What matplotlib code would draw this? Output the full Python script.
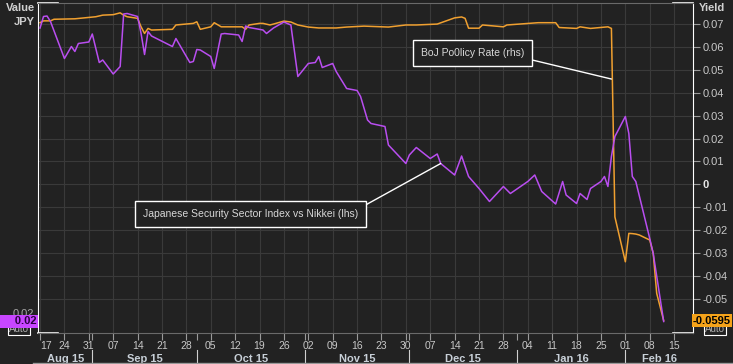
import matplotlib
matplotlib.use('Agg')
import matplotlib.pyplot as plt
import matplotlib.dates as mdates
import matplotlib.transforms as mtransforms
from matplotlib.lines import Line2D
import pandas as pd

plt.rcParams['font.family'] = ['Liberation Sans', 'DejaVu Sans']

# Japanese Security Sector Index vs Nikkei (lhs)
sec_dates = ['2015-08-17', '2015-08-18', '2015-08-19', '2015-08-20', '2015-08-24', '2015-08-26',
             '2015-08-27', '2015-08-28', '2015-08-31', '2015-09-01', '2015-09-03', '2015-09-04',
             '2015-09-07', '2015-09-09', '2015-09-10', '2015-09-11', '2015-09-14', '2015-09-15',
             '2015-09-16', '2015-09-17', '2015-09-18', '2015-09-24', '2015-09-25', '2015-09-29',
             '2015-09-30', '2015-10-01', '2015-10-02', '2015-10-05', '2015-10-06', '2015-10-08',
             '2015-10-09', '2015-10-13', '2015-10-14', '2015-10-15', '2015-10-16', '2015-10-20',
             '2015-10-21', '2015-10-23', '2015-10-26', '2015-10-28', '2015-10-30', '2015-11-02',
             '2015-11-04', '2015-11-05', '2015-11-06', '2015-11-09', '2015-11-10', '2015-11-13',
             '2015-11-16', '2015-11-17', '2015-11-19', '2015-11-20', '2015-11-24', '2015-11-25',
             '2015-11-30', '2015-12-01', '2015-12-03', '2015-12-07', '2015-12-09', '2015-12-10',
             '2015-12-14', '2015-12-16', '2015-12-18', '2015-12-21', '2015-12-24', '2015-12-28',
             '2015-12-30', '2016-01-04', '2016-01-06', '2016-01-08', '2016-01-12', '2016-01-14',
             '2016-01-15', '2016-01-18', '2016-01-19', '2016-01-21', '2016-01-22', '2016-01-25',
             '2016-01-26', '2016-01-27', '2016-01-28', '2016-01-29', '2016-02-01', '2016-02-02',
             '2016-02-03', '2016-02-04', '2016-02-08', '2016-02-09', '2016-02-12']
sec_vals = [0.02570, 0.02593, 0.02594, 0.02583, 0.02509, 0.02533,
            0.02523, 0.02539, 0.02542, 0.02558, 0.02501, 0.02506,
            0.02478, 0.02493, 0.02598, 0.02599, 0.02593, 0.02559,
            0.02517, 0.02563, 0.02554, 0.02533, 0.02549, 0.02501,
            0.02503, 0.02527, 0.02526, 0.02513, 0.02489, 0.02558,
            0.02559, 0.02556, 0.02543, 0.02574, 0.02571, 0.02566,
            0.02559, 0.02570, 0.02582, 0.02576, 0.02473, 0.02499,
            0.02501, 0.02513, 0.02491, 0.02499, 0.02483, 0.02449,
            0.02445, 0.02433, 0.02386, 0.02379, 0.02373, 0.02336,
            0.02299, 0.02316, 0.02331, 0.02309, 0.02318, 0.02299,
            0.02276, 0.02314, 0.02273, 0.02249, 0.02223, 0.02253,
            0.02239, 0.02263, 0.02276, 0.02243, 0.02218, 0.02263,
            0.02236, 0.02219, 0.02239, 0.02227, 0.02249, 0.02263,
            0.02273, 0.02253, 0.02313, 0.02353, 0.02393, 0.02359,
            0.02273, 0.02263, 0.02149, 0.02119, 0.01983]

# BoJ policy rate proxy (rhs)
boj_dates = ['2015-08-17', '2015-08-18', '2015-08-20', '2015-08-21', '2015-08-27', '2015-09-02',
             '2015-09-04', '2015-09-07', '2015-09-09', '2015-09-10', '2015-09-11', '2015-09-14',
             '2015-09-15', '2015-09-16', '2015-09-17', '2015-09-18', '2015-09-24', '2015-09-25',
             '2015-09-30', '2015-10-01', '2015-10-02', '2015-10-05', '2015-10-06', '2015-10-08',
             '2015-10-14', '2015-10-15', '2015-10-16', '2015-10-19', '2015-10-20', '2015-10-22',
             '2015-10-23', '2015-10-26', '2015-10-28', '2015-10-30', '2015-11-02', '2015-11-05',
             '2015-11-10', '2015-11-13', '2015-11-18', '2015-11-25', '2015-11-30', '2015-12-03',
             '2015-12-09', '2015-12-14', '2015-12-16', '2015-12-17', '2015-12-18', '2015-12-21',
             '2015-12-22', '2015-12-28', '2015-12-29', '2016-01-07', '2016-01-12', '2016-01-13',
             '2016-01-18', '2016-01-19', '2016-01-22', '2016-01-27', '2016-01-28', '2016-01-29',
             '2016-02-01', '2016-02-02', '2016-02-03', '2016-02-04', '2016-02-05', '2016-02-08',
             '2016-02-09', '2016-02-10', '2016-02-12']
boj_vals = [0.0706, 0.0714, 0.0714, 0.0721, 0.0723, 0.0732,
            0.0739, 0.0741, 0.0749, 0.0739, 0.0732, 0.0725,
            0.0688, 0.0659, 0.0681, 0.0674, 0.0677, 0.0696,
            0.0703, 0.0710, 0.0677, 0.0688, 0.0706, 0.0688,
            0.0688, 0.0677, 0.0696, 0.0703, 0.0703, 0.0696,
            0.0700, 0.0713, 0.0709, 0.0696, 0.0687, 0.0683,
            0.0683, 0.0687, 0.0691, 0.0687, 0.0696, 0.0696,
            0.0700, 0.0727, 0.0731, 0.0725, 0.0682, 0.0682,
            0.0696, 0.0688, 0.0696, 0.0706, 0.0706, 0.0685,
            0.0681, 0.0688, 0.0681, 0.0688, 0.0681, -0.0142,
            -0.0338, -0.0214, -0.0215, -0.0217, -0.0221, -0.0243,
            -0.0301, -0.0476, -0.0595]

yield_ticks = [0.07, 0.06, 0.05, 0.04, 0.03, 0.02, 0.01, 0.0,
               -0.01, -0.02, -0.03, -0.04, -0.05]

BG = '#222222'
GRID = '#3a3a3a'
TXT = '#c8c8c8'
PURPLE = '#b94ef0'
ORANGE = '#f0a030'

sec_x = pd.to_datetime(sec_dates)
boj_x = pd.to_datetime(boj_dates)

fig = plt.figure(figsize=(7.33, 3.64), dpi=100, facecolor=BG)
ax = fig.add_axes([38 / 733, 31 / 364, 655 / 733, 330 / 364], facecolor=BG)
axl = ax.twinx()
# twinx moves the host ticks to the left; put yield back on the right
ax.yaxis.tick_right()
ax.yaxis.set_label_position('right')
axl.yaxis.tick_left()
axl.yaxis.set_label_position('left')

ax.plot(boj_x, boj_vals, color=ORANGE, lw=1.1)
axl.plot(sec_x, sec_vals, color=PURPLE, lw=1.1)

x0 = pd.Timestamp('2015-08-17') - pd.Timedelta(hours=14)
x1 = pd.Timestamp('2016-02-15') + pd.Timedelta(hours=130)
ax.set_xlim(x0, x1)
ax.set_ylim(-0.0649, 0.0792)
axl.set_ylim(0.0196, 0.0262)

# right axis
ax.set_yticks(yield_ticks)
ax.set_yticklabels(['0' if v == 0 else f'{v:.2f}' for v in yield_ticks])
ax.tick_params(axis='y', colors='#9a9a9a', labelcolor=TXT, labelsize=8,
               length=5, width=0.8, pad=2)
for lab in ax.get_yticklabels():
    if lab.get_text() == '0':
        lab.set_fontweight('bold')
        lab.set_color('#e8e8e8')

# left axis
axl.set_yticks([0.02])
axl.set_yticklabels(['0.02'])
axl.tick_params(axis='y', length=0, labelcolor='#a8a8a8', labelsize=8, pad=3)

# x axis
ax.xaxis.set_major_locator(mdates.WeekdayLocator(byweekday=mdates.MO))
ax.xaxis.set_major_formatter(mdates.DateFormatter('%d'))
ax.xaxis.set_minor_locator(mdates.MonthLocator())
ax.tick_params(axis='x', which='both', colors='#9a9a9a', labelcolor=TXT,
               labelsize=7.5, length=5, width=0.8, pad=1)
fig.canvas.draw()
ax.get_xticklabels()[0].set_horizontalalignment('left')

ax.grid(True, color=GRID, lw=0.8)
ax.set_axisbelow(True)

# spines
for s in axl.spines.values():
    s.set_visible(False)
ax.spines['left'].set_color('white')
ax.spines['right'].set_color('white')
ax.spines['top'].set_color('#6a6a6a')
ax.spines['bottom'].set_color('#6a6a6a')
for xs, ys in [([0, 0.03], [1, 1]), ([0.97, 1], [1, 1]),
               ([0, 0.03], [0, 0]), ([0.97, 1], [0, 0])]:
    ax.plot(xs, ys, transform=ax.transAxes, color='white', lw=1.2, clip_on=False)

# month labels and separators
blend = mtransforms.blended_transform_factory(ax.transData, ax.transAxes)
months = pd.date_range('2015-08-01', '2016-03-01', freq='MS')
for m0, m1 in zip(months[:-1], months[1:]):
    a = max(m0, x0)
    b = min(m1, x1)
    ax.text(a + (b - a) / 2, -0.078, m0.strftime('%b %y'), transform=blend,
            ha='center', va='center', fontsize=8, fontweight='bold', color='#c8d0d8')
    if m0 > x0:
        ax.plot([m0, m0], [-0.052, -0.095], transform=blend, color='#d0d0d0',
                lw=0.8, clip_on=False)

# axis titles
fig.text(35 / 733, 1 - 8 / 364, 'Value', ha='right', va='center', fontsize=8,
         fontweight='bold', color='#d0d0d0')
fig.text(35 / 733, 1 - 22 / 364, 'JPY', ha='right', va='center', fontsize=8,
         fontweight='bold', color='#d0d0d0')
fig.text(699 / 733, 1 - 8 / 364, 'Yield', ha='left', va='center', fontsize=8,
         fontweight='bold', color='#d0d0d0')

# last value boxes
lblend = mtransforms.blended_transform_factory(axl.transAxes, axl.transData)
rblend = mtransforms.blended_transform_factory(ax.transAxes, ax.transData)
axl.text(-0.029, 0.012, 'Auto', transform=axl.transAxes, ha='center', va='center',
         fontsize=7, color='#b0b0b0', clip_on=False, zorder=3,
         bbox=dict(boxstyle='square,pad=0.1', fc=BG, ec='white', lw=0.8))
axl.text(-0.002, sec_vals[-1], '      ' + f'{sec_vals[-1]:.2f}', transform=lblend,
         ha='right', va='center', fontsize=8, fontweight='bold', color='#2a0040',
         clip_on=False, zorder=5,
         bbox=dict(boxstyle='square,pad=0.12', fc='#c846ff', ec='none'))
axl.text(1.034, 0.012, 'Auto', transform=axl.transAxes, ha='center', va='center',
         fontsize=7, color='#b0b0b0', clip_on=False, zorder=3,
         bbox=dict(boxstyle='square,pad=0.1', fc=BG, ec='white', lw=0.8))
axl.text(1.0, boj_vals[-1], f'{boj_vals[-1]:.4f}', transform=rblend,
         ha='left', va='center', fontsize=8, fontweight='bold', color='black',
         clip_on=False, zorder=5,
         bbox=dict(boxstyle='square,pad=0.12', fc='#f5a31a', ec='none'))

# annotations
axl.annotate('Japanese Security Sector Index vs Nikkei (lhs)',
             xy=(mdates.date2num(pd.Timestamp('2015-12-10')), 0.02299), xycoords='data',
             xytext=(0.3247, 0.3606), textcoords='axes fraction',
             ha='center', va='center', fontsize=7.5, color='#d8d8d8',
             bbox=dict(boxstyle='square,pad=0.75', fc=BG, ec='white', lw=1),
             arrowprops=dict(arrowstyle='-', color='white', lw=1, relpos=(1, 1),
                             shrinkA=0, shrinkB=0))
axl.annotate('BoJ Po0licy Rate (rhs)',
             xy=(mdates.date2num(pd.Timestamp('2016-01-28')), 0.046), xycoords=ax.transData,
             xytext=(0.664, 0.848), textcoords='axes fraction',
             ha='center', va='center', fontsize=7.5, color='#d8d8d8',
             bbox=dict(boxstyle='square,pad=0.75', fc=BG, ec='white', lw=1),
             arrowprops=dict(arrowstyle='-', color='white', lw=1, relpos=(1, 0),
                             shrinkA=0, shrinkB=0))

fig.add_artist(Line2D([0.045, 1.0], [0.004, 0.004], transform=fig.transFigure,
                      color='#9a9a9a', lw=1))

fig.savefig('out.png', dpi=100, facecolor=BG)
